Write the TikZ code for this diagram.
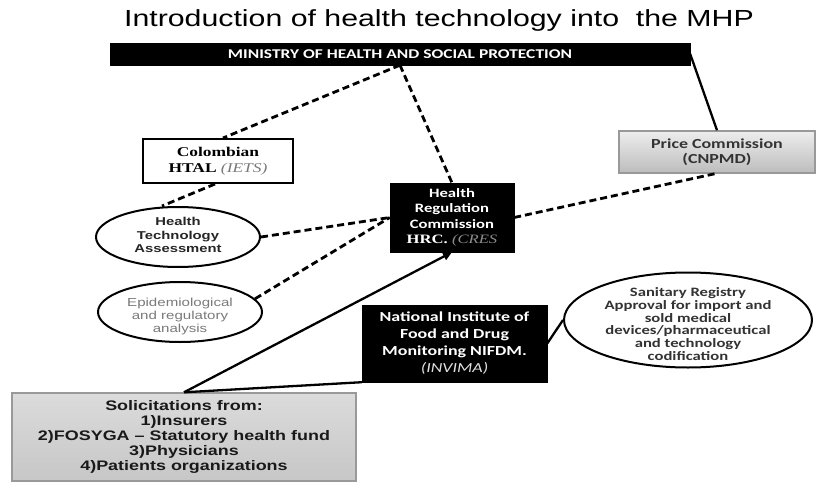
\documentclass[tikz,border=0pt]{standalone}
\usepackage{fontspec}
\usetikzlibrary{arrows.meta,shapes.geometric}
\newfontfamily\arialf[FakeStretch=1.3]{Liberation Sans}
\newfontfamily\calf[FakeStretch=1.3]{Carlito}
\newfontfamily\timesf[FakeStretch=1.3]{Liberation Serif}
\definecolor{txtgray}{HTML}{7A7A7A}
\definecolor{darktxt}{HTML}{333333}
\begin{document}
\begin{tikzpicture}[x=1pt,y=-1pt,
  dashln/.style={line width=2.8pt, dash pattern=on 7pt off 4pt},
  solidln/.style={line width=2.3pt},
  blackbox/.style={rectangle, fill=black, draw=black, text=white, align=center, inner sep=0pt},
  whitebox/.style={rectangle, draw=black, line width=2pt, fill=white, align=center, inner sep=0pt},
  graybox/.style={rectangle, draw=black!40, line width=1.4pt, align=center, inner sep=0pt},
  oval/.style={ellipse, draw=black, line width=2pt, fill=white, inner sep=0pt},
  plain/.style={align=center, inner sep=0pt},
]
\useasboundingbox (0,0) rectangle (816,484);

% title
\node[font=\arialf\fontsize{23.3}{28}\selectfont, anchor=base] (title) at (439,27)
  {Introduction of health technology into\ \ the MHP};

% nodes
\node[blackbox, minimum width=580pt, minimum height=22pt,
  font=\calf\bfseries\fontsize{13.4}{15}\selectfont] (ministry) at (400,54)
  {MINISTRY OF HEALTH AND SOCIAL PROTECTION};

\node[whitebox, minimum width=150pt, minimum height=44pt,
  font=\timesf\bfseries\fontsize{13.4}{16}\selectfont] (htal) at (218,161)
  {Colombian\\HTAL {\mdseries\itshape\color{txtgray}(IETS)}};

\node[graybox, minimum width=196pt, minimum height=42pt,
  top color=white!93!black, bottom color=white!74!black, text=darktxt,
  font=\calf\bfseries\fontsize{13.8}{14.5}\selectfont] (price) at (717,152)
  {Price Commission\\(CNPMD)};

\node[blackbox, minimum width=124pt, minimum height=69pt,
  font=\calf\bfseries\fontsize{12.8}{15.5}\selectfont] (hrc) at (452,217.5)
  {Health\\Regulation\\Commission\\{\timesf HRC. {\mdseries\itshape\color{black!45}(CRES}}};

\node[oval, minimum width=164pt, minimum height=60pt] (hta) at (178,237) {};
\node[plain, font=\arialf\bfseries\fontsize{11.4}{13.5}\selectfont, text=black!85] (htatxt) at (178,235)
  {Health\\Technology\\Assessment};

\node[oval, minimum width=164pt, minimum height=60pt] (epi) at (180,312) {};
\node[plain, font=\arialf\fontsize{11.6}{13}\selectfont, text=txtgray] (epitxt) at (180,316)
  {Epidemiological\\and regulatory\\analysis};

\node[blackbox, minimum width=185pt, minimum height=77pt,
  font=\calf\bfseries\fontsize{13.8}{17}\selectfont] (nifdm) at (454.5,343.5)
  {National Institute of\\Food and Drug\\Monitoring NIFDM.\\{\mdseries\itshape\color{black!12}(INVIMA)}};

\node[oval, minimum width=248pt, minimum height=95pt] (san) at (688,320) {};
\node[plain, font=\calf\bfseries\fontsize{12.8}{12.8}\selectfont, text=darktxt] (santxt) at (688,324)
  {Sanitary Registry\\Approval for import and\\sold medical\\devices/pharmaceutical\\and technology\\codification};

\node[graybox, minimum width=344pt, minimum height=88pt,
  top color=white!86!black, bottom color=white!78!black, text=black!90,
  font=\arialf\bfseries\fontsize{13.8}{15}\selectfont] (solic) at (184,437)
  {Solicitations from:\\1)Insurers\\2)FOSYGA – Statutory health fund\\3)Physicians\\4)Patients organizations};

% connectors
\draw[dashln] (ministry.south) -- ([xshift=5pt]htal.north);
\draw[dashln] (ministry.south) -- (hrc.north);
\draw[dashln] ([xshift=-3pt]htal.south) -- ([xshift=-16pt]hta.north);
\draw[dashln] (hta.east) -- (hrc.west);
\draw[dashln] (epi.10) -- (hrc.west);
\draw[dashln] (hrc.east) -- ([xshift=-2pt]price.south);
\draw[solidln] (ministry.east) -- (price.north);
\draw[solidln, -{Triangle[width=8pt,length=9pt]}] (solic.north) -- (hrc.south);
\draw[solidln] (solic.north) -- (nifdm.south west);
\draw[solidln] (nifdm.east) -- (san.west);
\end{tikzpicture}
\end{document}
